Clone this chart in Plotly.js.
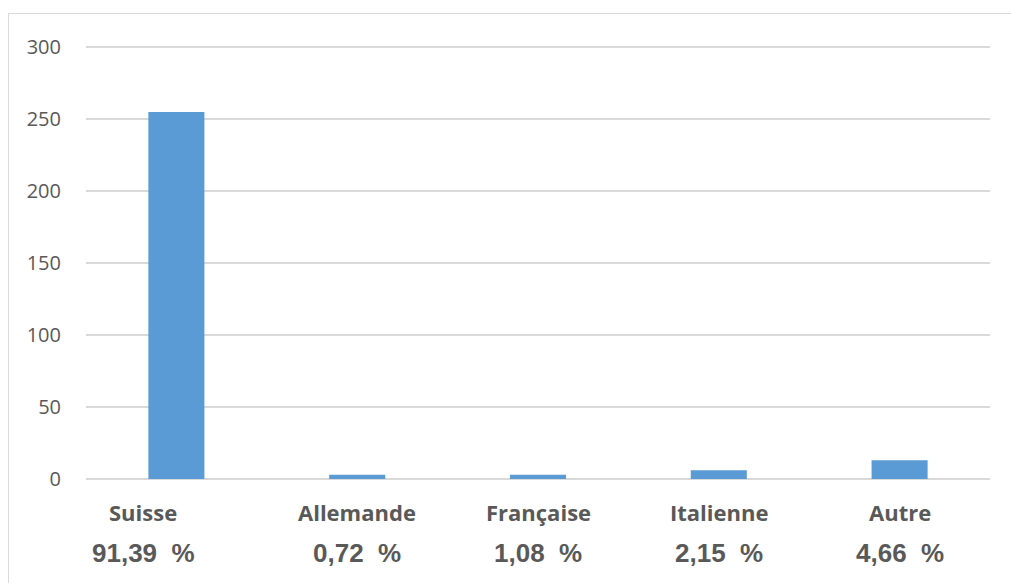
<!DOCTYPE html>
<html>
<head>
<meta charset="utf-8">
<script src="https://cdn.plot.ly/plotly-3.0.1.min.js"></script>
<style>
  html, body { margin: 0; padding: 0; background: #fff; overflow: hidden; }
  #wrap { position: relative; width: 1011px; height: 583px; }
  #chart { position: absolute; left: 0; top: 0; width: 1011px; height: 583px; }
  #frame { position: absolute; left: 8px; top: 13px; width: 1100px; height: 700px;
           border: 1.5px solid #d9d9d9; pointer-events: none; }
</style>
</head>
<body>
<div id="wrap">
  <div id="chart"></div>
  <div id="frame"></div>
</div>
<script>
// Nationalities and their counts
const categories = ['Suisse', 'Allemande', 'Française', 'Italienne', 'Autre'];
const counts = [255, 3, 3, 6, 13];
const percentLabels = ['91,39', '0,72', '1,08', '2,15', '4,66'];
const yTicks = [0, 50, 100, 150, 200, 250, 300];

const textGrey = '#595959';
const gridGrey = '#d9d9d9';

const trace = {
  type: 'bar',
  x: categories,
  y: counts,
  marker: { color: '#5b9bd5' },
  hoverinfo: 'x+y'
};

// The first category's caption sits a little to the left of its bar
const captionShift = (i) => (i === 0 ? -33 : 0);

// Category names
const nameNotes = categories.map((c, i) => ({
  x: c, xref: 'x',
  y: -0.0752, yref: 'paper',
  xanchor: 'center', yanchor: 'middle',
  xshift: captionShift(i),
  showarrow: false,
  text: c,
  font: { family: 'Open Sans, Noto Sans, sans-serif', size: 22, color: textGrey, weight: 'bold' }
}));

// Percentage shares under each name
const pctNotes = categories.map((c, i) => ({
  x: c, xref: 'x',
  y: -0.1686, yref: 'paper',
  xanchor: 'center', yanchor: 'middle',
  xshift: captionShift(i),
  showarrow: false,
  text: percentLabels[i] + '  %',
  font: { family: 'Liberation Sans, Arial, sans-serif', size: 26, color: textGrey, weight: 'bold' }
}));

const layout = {
  width: 1011,
  height: 583,
  margin: { l: 86, r: 21, t: 40, b: 104 },
  paper_bgcolor: '#ffffff',
  plot_bgcolor: '#ffffff',
  bargap: 0.69,
  showlegend: false,
  xaxis: {
    type: 'category',
    showgrid: false,
    showline: false,
    zeroline: false,
    ticks: '',
    showticklabels: false
  },
  yaxis: {
    range: [0, 305],
    tickvals: yTicks,
    showgrid: true,
    gridcolor: gridGrey,
    gridwidth: 1.5,
    zeroline: true,
    zerolinecolor: gridGrey,
    zerolinewidth: 1.5,
    showline: false,
    ticks: '',
    ticklabelstandoff: 24,
    tickfont: { family: 'Open Sans, Noto Sans, sans-serif', size: 20, color: textGrey }
  },
  annotations: nameNotes.concat(pctNotes)
};

Plotly.newPlot('chart', [trace], layout, { displayModeBar: false, staticPlot: true });
</script>
</body>
</html>
